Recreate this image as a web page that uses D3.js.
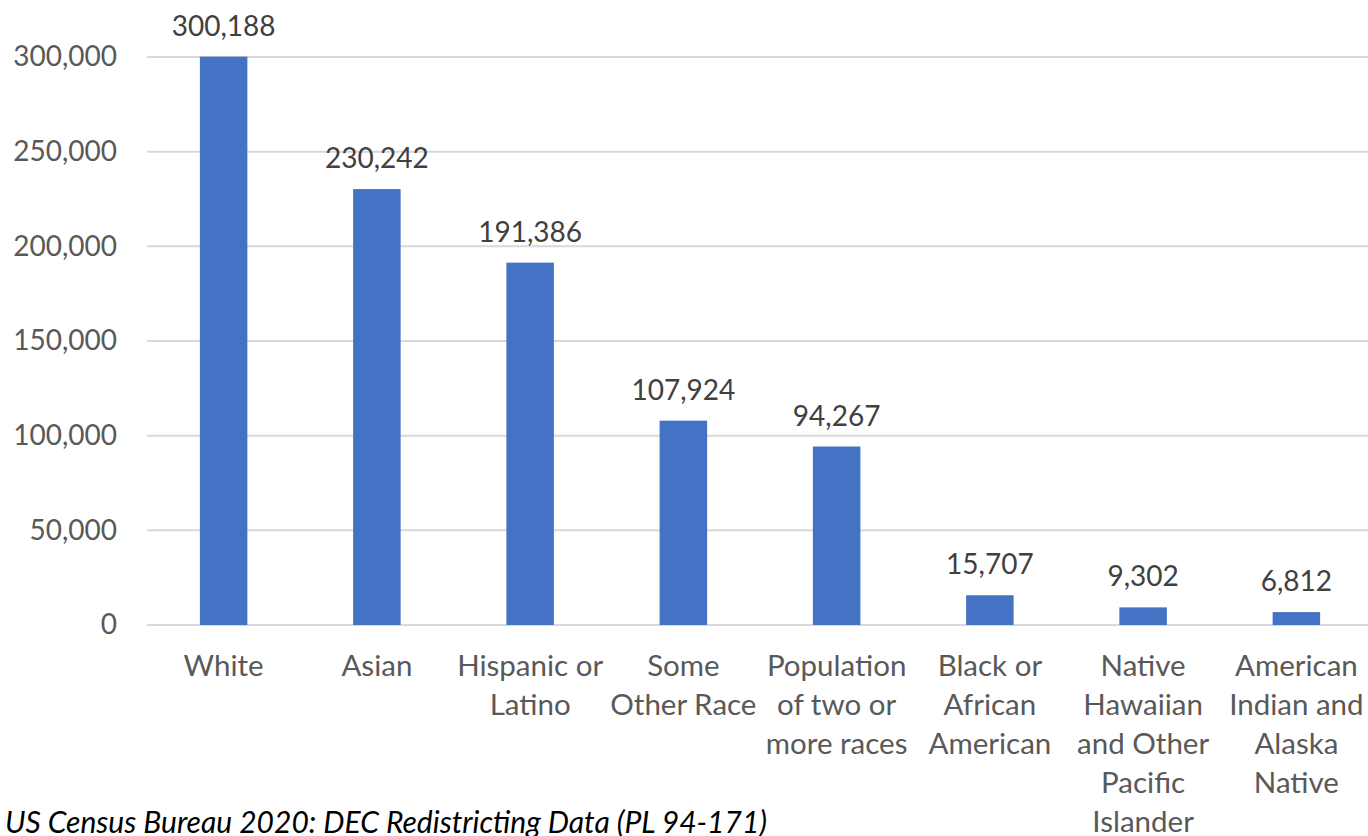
<!DOCTYPE html>
<html>
<head>
<meta charset="utf-8">
<script src="https://cdn.jsdelivr.net/npm/d3@7"></script>
<style>
  body { margin: 0; background: #fff; }
  svg text { font-family: Lato, "Open Sans", sans-serif; }
</style>
</head>
<body>
<div id="chart"></div>
<script>
const WIDTH = 1368;
const HEIGHT = 836;

const categories = [
    'White',
    'Asian',
    'Hispanic or Latino',
    'Some Other Race',
    'Population of two or more races',
    'Black or African American',
    'Native Hawaiian and Other Pacific Islander',
    'American Indian and Alaska Native'
];
const labelLines = [
    ['White'],
    ['Asian'],
    ['Hispanic or', 'Latino'],
    ['Some', 'Other Race'],
    ['Population', 'of two or', 'more races'],
    ['Black or', 'African', 'American'],
    ['Native', 'Hawaiian', 'and Other', 'Pacific', 'Islander'],
    ['American', 'Indian and', 'Alaska', 'Native']
];
const values = [300188, 230242, 191386, 107924, 94267, 15707, 9302, 6812];
const yTicks = [0, 50000, 100000, 150000, 200000, 250000, 300000];
const source = 'US Census Bureau 2020: DEC Redistricting Data (PL 94-171)';

const data = categories.map((c, i) => ({ name: c, lines: labelLines[i], value: values[i] }));

const svg = d3.select('#chart')
    .append('svg')
    .attr('width', WIDTH)
    .attr('height', HEIGHT);

const xScale = d3.scaleBand()
    .domain(categories)
    .range([147, 1373])
    .paddingInner(0.69)
    .paddingOuter(0.345);

const yScale = d3.scaleLinear()
    .domain([0, 300000])
    .range([625, 57]);

// Gridlines
svg.append('g')
    .selectAll('line')
    .data(yTicks)
    .enter()
    .append('line')
    .attr('x1', 147)
    .attr('x2', WIDTH)
    .attr('y1', d => yScale(d))
    .attr('y2', d => yScale(d))
    .attr('stroke', '#d9d9d9')
    .attr('stroke-width', 2);

// Y axis labels
const yAxis = d3.axisLeft(yScale)
    .tickValues(yTicks)
    .tickFormat(d3.format(','))
    .tickSize(0)
    .tickPadding(0);

svg.append('g')
    .attr('transform', 'translate(117,0)')
    .call(yAxis)
    .call(g => g.select('.domain').remove())
    .selectAll('text')
    .attr('font-size', 28)
    .attr('fill', '#595959')
    .style('font-family', 'Lato, sans-serif')
    .attr('x', 0);

// Bars
svg.selectAll('rect.bar')
    .data(data)
    .enter()
    .append('rect')
    .attr('class', 'bar')
    .attr('x', d => xScale(d.name))
    .attr('width', xScale.bandwidth())
    .attr('y', d => yScale(d.value))
    .attr('height', d => yScale(0) - yScale(d.value))
    .attr('fill', '#4472c4');

// Value labels
svg.selectAll('text.value')
    .data(data)
    .enter()
    .append('text')
    .attr('class', 'value')
    .attr('x', d => xScale(d.name) + xScale.bandwidth() / 2)
    .attr('y', d => yScale(d.value) - 21)
    .attr('text-anchor', 'middle')
    .attr('font-size', 28)
    .attr('fill', '#404040')
    .text(d => d3.format(',')(d.value));

// Category labels
const catLabels = svg.selectAll('text.cat')
    .data(data)
    .enter()
    .append('text')
    .attr('class', 'cat')
    .attr('text-anchor', 'middle')
    .attr('font-size', 29.5)
    .attr('fill', '#595959');

catLabels.selectAll('tspan')
    .data(d => d.lines.map(l => ({ line: l, x: xScale(d.name) + xScale.bandwidth() / 2 })))
    .enter()
    .append('tspan')
    .attr('x', d => d.x)
    .attr('y', (d, i) => 676 + i * 39)
    .text(d => d.line);

// Source note
svg.append('text')
    .attr('x', 5)
    .attr('y', 833)
    .attr('font-size', 30)
    .attr('font-style', 'italic')
    .attr('fill', '#000')
    .text(source);
</script>
</body>
</html>
